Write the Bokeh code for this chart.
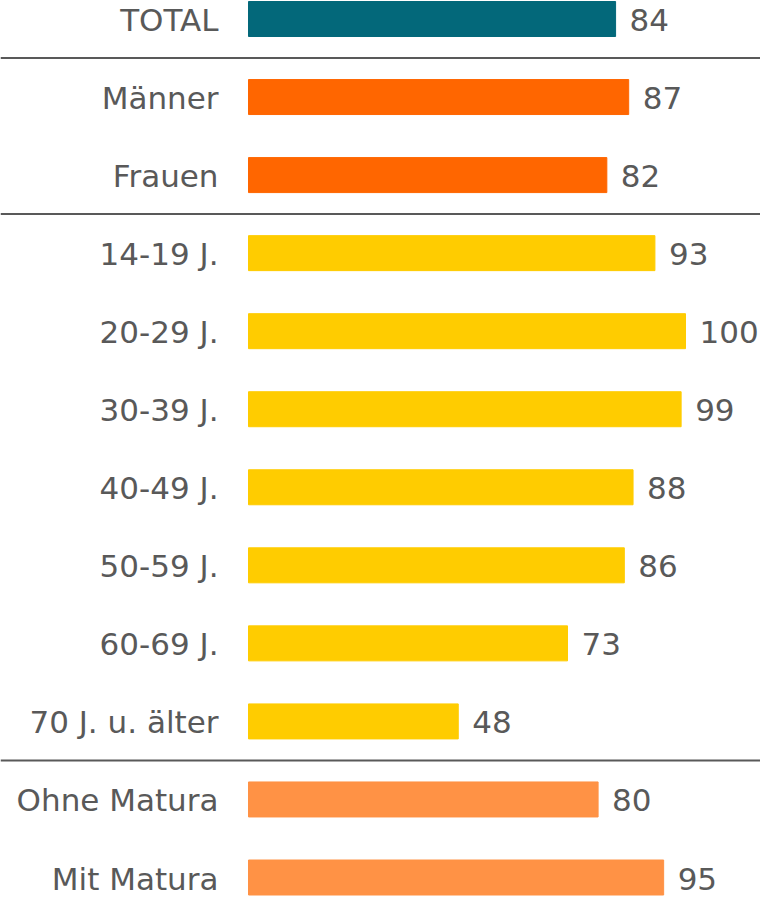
import numpy as np
from bokeh.plotting import figure
from bokeh.models import ColumnDataSource, Range1d, Span
from bokeh.core.properties import value
from bokeh.embed import file_html
from bokeh.resources import INLINE

# ---- data ----
categories = ["TOTAL", "Männer", "Frauen", "14-19 J.", "20-29 J.", "30-39 J.",
              "40-49 J.", "50-59 J.", "60-69 J.", "70 J. u. älter",
              "Ohne Matura", "Mit Matura"]
values = [84, 87, 82, 93, 100, 99, 88, 86, 73, 48, 80, 95]
groups = ["total", "sex", "sex", "age", "age", "age", "age", "age", "age", "age",
          "edu", "edu"]
group_colors = {"total": "#03687A", "sex": "#FF6600", "age": "#FFCC00", "edu": "#FF9245"}

# ---- layout ----
W, H = 760, 898
bar_px = 35
top_px = bar_px / 2 + 1
bottom_px = 21
n = len(categories)
row_px = (H - top_px - bottom_px) / (n - 1)
bar_h = bar_px / row_px
px_per_unit = 4.37
bar_x0_px = 248

y = np.arange(n)
src = ColumnDataSource(dict(
    y=y, value=values, label=categories,
    vlabel=[str(v) for v in values],
    color=[group_colors[g] for g in groups],
    zero=[0] * n,
))

p = figure(width=W, height=H, output_backend="svg", toolbar_location=None,
           x_range=Range1d(-bar_x0_px / px_per_unit, (W - bar_x0_px) / px_per_unit),
           y_range=Range1d(n - 1 + bottom_px / row_px, -top_px / row_px),
           min_border=0, outline_line_color=None)
p.axis.visible = False
p.grid.visible = False

p.hbar(y="y", left="zero", right="value", height=bar_h, color="color", source=src)

font = value("DejaVu Sans")
txt_color = "#595959"
p.text(x="zero", y="y", text="label", source=src, text_align="right",
       text_baseline="middle", x_offset=-30, y_offset=1, text_font=font,
       text_font_size="31px", text_color=txt_color)
p.text(x="value", y="y", text="vlabel", source=src, text_align="left",
       text_baseline="middle", x_offset=14, y_offset=1, text_font=font,
       text_font_size="31px", text_color=txt_color)

# separators between groups
for i in range(1, n):
    if groups[i] != groups[i - 1]:
        p.add_layout(Span(location=i - 0.5, dimension="width",
                          line_color="#595959", line_width=2))

open("out.html", "w").write(file_html(p, INLINE))
